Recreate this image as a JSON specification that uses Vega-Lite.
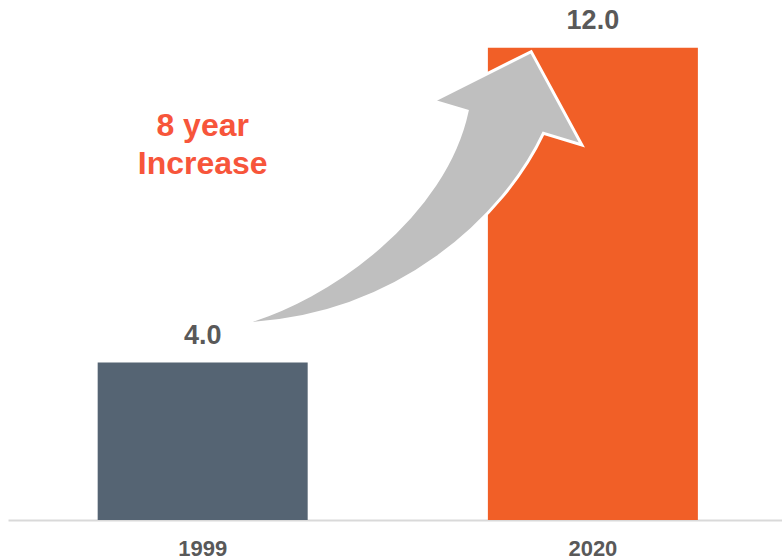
{
  "$schema": "https://vega.github.io/schema/vega-lite/v6.json",
  "description": "Two-bar comparison, 1999 vs 2020, with a curved arrow annotation.",
  "width": 774,
  "height": 520,
  "autosize": {"type": "none"},
  "padding": {"left": 8, "top": 0, "right": 0, "bottom": 39},
  "background": "white",
  "config": {
    "view": {"stroke": null},
    "font": "Liberation Sans"
  },
  "data": {
    "values": [
      {"year": "1999", "value": 4.0},
      {"year": "2020", "value": 12.0}
    ]
  },
  "encoding": {
    "x": {
      "field": "year",
      "type": "nominal",
      "scale": {"paddingInner": 0.4618, "paddingOuter": 0.2227, "align": 0.516},
      "axis": {
        "title": null,
        "labelAngle": 0,
        "ticks": false,
        "grid": false,
        "domainColor": "#d9d9d9",
        "domainWidth": 2,
        "labelFont": "Liberation Sans",
        "labelFontSize": 22,
        "labelFontWeight": "bold",
        "labelColor": "#595959",
        "labelBaseline": "alphabetic",
        "labelPadding": 35
      }
    },
    "y": {
      "field": "value",
      "type": "quantitative",
      "scale": {"domain": [0, 13.21], "nice": false},
      "axis": null
    }
  },
  "layer": [
    {
      "mark": {"type": "bar"},
      "encoding": {
        "color": {
          "field": "year",
          "type": "nominal",
          "scale": {"domain": ["1999", "2020"], "range": ["#556473", "#F15F27"]},
          "legend": null
        }
      }
    },
    {
      "mark": {
        "type": "text",
        "baseline": "alphabetic",
        "dy": -19,
        "fontSize": 27,
        "fontWeight": "bold",
        "color": "#595959"
      },
      "encoding": {
        "text": {"field": "value", "type": "quantitative", "format": ".1f"}
      }
    },
    {
      "transform": [{"filter": "datum.year == '2020'"}],
      "mark": {
        "type": "point",
        "shape": "M -3.527 2.763 C -1.927 2.703 -0.877 1.673 -0.494 0.856 L -0.110 0.973 L -0.617 0.040 L -1.597 0.533 L -1.257 0.633 C -1.477 1.673 -2.627 2.523 -3.527 2.763 Z",
        "size": 40000,
        "filled": true,
        "fill": "#bfbfbf",
        "stroke": "white",
        "strokeWidth": 3,
        "strokeJoin": "miter",
        "opacity": 1
      }
    },
    {
      "transform": [{"filter": "datum.year == '1999'"}],
      "mark": {
        "type": "text",
        "text": ["8 year", "Increase"],
        "baseline": "alphabetic",
        "lineHeight": 38,
        "fontSize": 32,
        "fontWeight": "bold",
        "color": "#F7553B"
      },
      "encoding": {
        "y": {"datum": 9.76, "type": "quantitative"}
      }
    }
  ]
}
